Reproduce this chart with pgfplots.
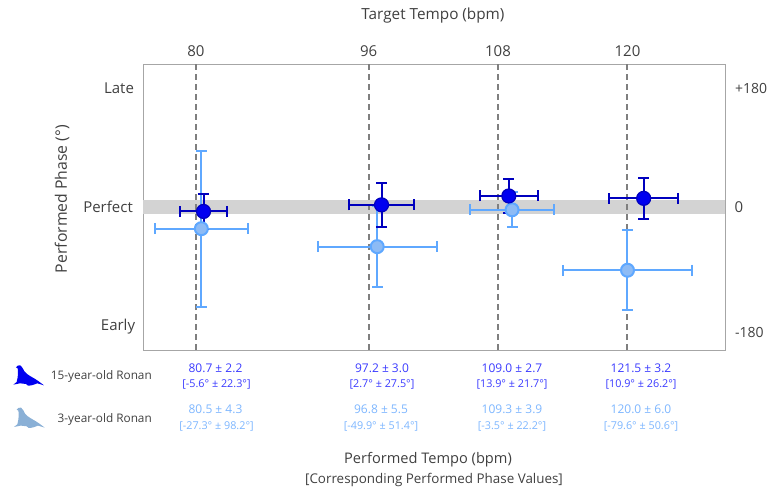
\documentclass[border=0pt]{standalone}
\usepackage{fontspec}
\setmainfont{Open Sans}
\usepackage{pgfplots}
\pgfplotsset{compat=1.18}
\usepackage{pgfplotstable}
\definecolor{txt}{HTML}{404040}
\definecolor{frame}{HTML}{A6A6A6}
\definecolor{band}{HTML}{D3D3D3}
\definecolor{dashc}{HTML}{7F7F7F}
\definecolor{darkedge}{HTML}{0000BE}
\definecolor{darkfill}{HTML}{0000F0}
\definecolor{lightedge}{HTML}{5FA8FF}
\definecolor{lightfill}{HTML}{8DBBF5}
\definecolor{darktxt}{HTML}{3A3AFF}
\definecolor{lighttxt}{HTML}{7DB6FF}
\definecolor{sealb}{HTML}{0000F0}
\definecolor{seall}{HTML}{8AB0D6}
\pgfplotstableread{
x y xe ye
80.7 -5.6 2.2 22.3
97.2 2.7 3.0 27.5
109.0 13.9 2.7 21.7
121.5 10.9 3.2 26.2
}\older
\pgfplotstableread{
x y xe ye
80.5 -27.3 4.3 98.2
96.8 -49.9 5.5 51.4
109.3 -3.5 3.9 22.2
120.0 -79.6 6.0 50.6
}\younger
\newcommand{\sealpath}{(48,82) .. controls (50,77) and (56,75) .. (61,76) .. controls (68,79) and (68,88) .. (73,94) .. controls (82,106) and (100,112) .. (116,124) -- (132,136) -- (112,130) .. controls (104,133) and (96,137) .. (84,137) -- (78,132) -- (60,130) -- (40,134) -- (50,126) .. controls (54,112) and (55,95) .. (53,85) -- cycle}
\begin{document}
\begin{tikzpicture}[x=1pt,y=1pt]
\useasboundingbox (0,0) rectangle (768,493);
\begin{axis}[
  at={(143pt,143pt)},anchor=south west,
  width=582pt,height=286pt,scale only axis,
  xmin=75.09,xmax=129.04,ymin=-180,ymax=180,
  axis line style={frame,line width=1pt},
  xtick={80,96,108,120},
  xticklabel pos=upper,
  ytick=\empty,
  major tick length=0pt,
  xticklabel style={font=\fontsize{15}{16}\selectfont,text=txt,yshift=4pt},
  clip=true,
  axis on top=false,
  /pgf/number format/assume math mode=true,
]
\addplot[draw=none,fill=band,forget plot] coordinates {(75.09,-8.8) (129.04,-8.8) (129.04,8.8) (75.09,8.8)} -- cycle;
\addplot[dashc,line width=2pt,dash pattern=on 6pt off 4pt,forget plot] coordinates {(80,-180) (80,180)};
\addplot[dashc,line width=2pt,dash pattern=on 6pt off 4pt,forget plot] coordinates {(96,-180) (96,180)};
\addplot[dashc,line width=2pt,dash pattern=on 6pt off 4pt,forget plot] coordinates {(108,-180) (108,180)};
\addplot[dashc,line width=2pt,dash pattern=on 6pt off 4pt,forget plot] coordinates {(120,-180) (120,180)};
\addplot[only marks,mark=*,mark size=6.5pt,
  mark options={draw=lightedge,fill=lightfill,line width=2pt},
  error bars/.cd,x dir=both,y dir=both,x explicit,y explicit,
  error bar style={lightedge,line width=2pt},
  error mark options={rotate=90,mark size=5.5pt,lightedge,line width=2pt}]
  table[x=x,y=y,x error=xe,y error=ye] {\younger};
\addplot[only marks,mark=*,mark size=7pt,
  mark options={draw=darkedge,fill=darkfill,line width=1.2pt},
  error bars/.cd,x dir=both,y dir=both,x explicit,y explicit,
  error bar style={darkedge,line width=2pt},
  error mark options={rotate=90,mark size=5.5pt,darkedge,line width=2pt}]
  table[x=x,y=y,x error=xe,y error=ye] {\older};
\end{axis}
\tikzset{t/.style={text=txt,inner sep=0pt,font=\fontsize{#1}{#1}\selectfont}}
\node[t=15.3] at (433,477) {Target Tempo (bpm)};
\node[t=15.8,rotate=90] at (62,294) {Performed Phase (\textdegree)};
\node[t=15] at (119,405) {Late};
\node[t=15,anchor=east] at (133,286) {Perfect};
\node[t=15] at (118,166) {Early};
\node[t=14,anchor=west] at (735,405) {+180};
\node[t=15] at (739,286) {0};
\node[t=14,anchor=west] at (735,161) {-180};
\node[t=14.6] at (428,33) {Performed Tempo (bpm)};
\node[t=13.4] at (434,13) {[Corresponding Performed Phase Values]};
\node[t=11.8,anchor=east] at (152,117) {15-year-old Ronan};
\node[t=11.8,anchor=east] at (152,74) {3-year-old Ronan};
\tikzset{d/.style={inner sep=0pt,text=darktxt,font=\fontsize{12}{12}\selectfont},
 l/.style={inner sep=0pt,text=lighttxt,font=\fontsize{12}{12}\selectfont},
 b/.style={font=\fontsize{10.8}{11}\selectfont}}
\node[d] at (215.5,125) {80.7 ± 2.2};
\node[d,b] at (216.5,109) {[-5.6° ± 22.3°]};
\node[l] at (215.5,84) {80.5 ± 4.3};
\node[l,b] at (216.5,67) {[-27.3° ± 98.2°]};
\node[d] at (382,125) {97.2 ± 3.0};
\node[d,b] at (382,109) {[2.7° ± 27.5°]};
\node[l] at (381,84) {96.8 ± 5.5};
\node[l,b] at (381,67) {[-49.9° ± 51.4°]};
\node[d] at (512,125) {109.0 ± 2.7};
\node[d,b] at (512,109) {[13.9° ± 21.7°]};
\node[l] at (512,84) {109.3 ± 3.9};
\node[l,b] at (512,67) {[-3.5° ± 22.2°]};
\node[d] at (641,125) {121.5 ± 3.2};
\node[d,b] at (641,109) {[10.9° ± 26.2°]};
\node[l] at (641,84) {120.0 ± 6.0};
\node[l,b] at (641,67) {[-79.6° ± 50.6°]};
\begin{scope}[shift={(0,153)},x=0.3333pt,y=-0.3333pt]
\fill[sealb] \sealpath;
\end{scope}
\begin{scope}[shift={(0.7,110.7)},x=0.3333pt,y=-0.3333pt]
\fill[seall] \sealpath;
\end{scope}
\end{tikzpicture}
\end{document}
